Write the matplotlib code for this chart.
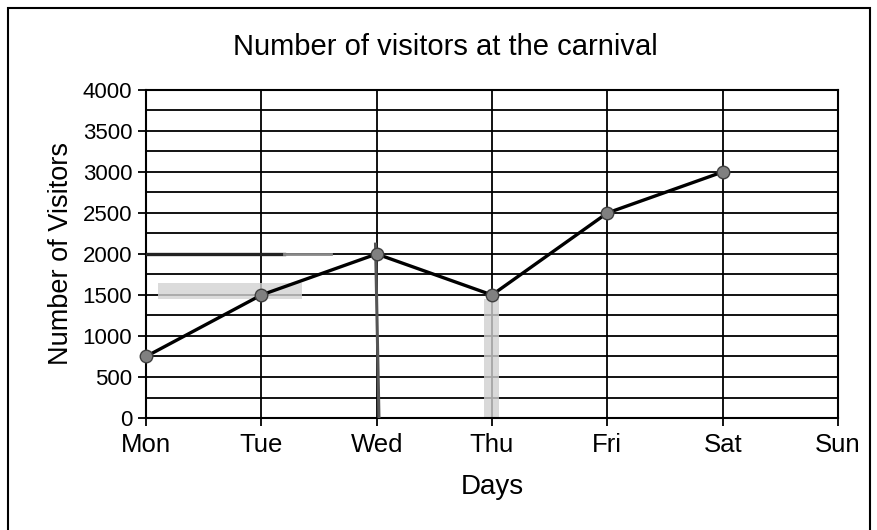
import matplotlib.pyplot as plt
import numpy as np
from matplotlib.patches import Rectangle

# Data
days = ['Mon', 'Tue', 'Wed', 'Thu', 'Fri', 'Sat', 'Sun']
visit_days = ['Mon', 'Tue', 'Wed', 'Thu', 'Fri', 'Sat']
visitors = [750, 1500, 2000, 1500, 2500, 3000]
y_ticks = [0, 500, 1000, 1500, 2000, 2500, 3000, 3500, 4000]

plt.rcParams['font.family'] = ['Liberation Sans', 'DejaVu Sans']

fig = plt.figure(figsize=(8.77, 5.3), dpi=100)
ax = fig.add_axes([0.1665, 0.2113, 0.789, 0.619])

x_all = np.arange(len(days))
x = np.arange(len(visit_days))

# grid: vertical at each day, horizontal every 250
ax.set_xlim(0, len(days) - 1)
ax.set_ylim(0, 4000)
ax.set_xticks(x_all)
ax.set_xticklabels(days, fontsize=18.5)
ax.set_yticks(y_ticks)
ax.set_yticklabels([str(v) for v in y_ticks], fontsize=16)
ax.set_yticks(np.arange(0, 4001, 250), minor=True)
ax.grid(which='both', axis='y', color='black', linewidth=1.3)
ax.grid(which='major', axis='x', color='black', linewidth=1.3)
ax.tick_params(axis='y', which='major', length=6, width=1.3, direction='out', pad=4)
ax.tick_params(axis='y', which='minor', length=0)
ax.tick_params(axis='x', length=6, width=1.3, direction='out', pad=5)
for s in ax.spines.values():
    s.set_linewidth(1.5)
    s.set_color('black')

# hand-drawn pen marks on the scan
ax.plot([0, 1.2], [2000, 2000], color='#222222', lw=2.4, zorder=3)
ax.plot([1.2, 1.6], [2000, 2000], color='#888888', lw=2.0, zorder=3)
ax.plot([1.99, 2.02], [2120, 0], color='#555555', lw=2.2, zorder=3)
ax.fill_between([0.1, 1.35], 1450, 1650, color='#d2d2d2', alpha=0.8, zorder=2, lw=0)
ax.fill_between([2.93, 3.06], 0, 1450, color='#d0d0d0', alpha=0.8, zorder=2, lw=0)

ax.plot(x, visitors, color='black', lw=2.4, marker='o', markersize=9,
        markerfacecolor='#808080', markeredgecolor='#404040', zorder=4, clip_on=False)

fig.text(0.508, 0.911, 'Number of visitors at the carnival', fontsize=21,
         ha='center', va='center')
ax.set_xlabel('Days', fontsize=20, labelpad=12)
ax.set_ylabel('Number of Visitors', fontsize=19.5, labelpad=6)

# outer frame of the chart
fig.patches.append(Rectangle((0.009, -0.01), 0.983, 0.995, transform=fig.transFigure,
                             fill=False, edgecolor='black', linewidth=1.5))

fig.savefig('out.png', dpi=100)
